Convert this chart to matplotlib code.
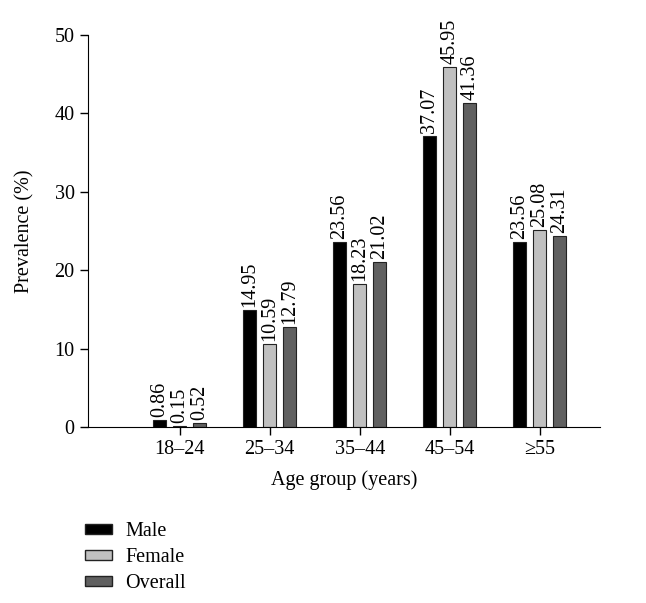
import numpy as np
import matplotlib.pyplot as plt
from matplotlib.patches import Patch

plt.rcParams['font.family'] = ['Liberation Serif', 'DejaVu Serif']

groups = ["18\u201324", "25\u201334", "35\u201344", "45\u201354", "\u226555"]
male = [0.86, 14.95, 23.56, 37.07, 23.56]
female = [0.15, 10.59, 18.23, 45.95, 25.08]
overall = [0.52, 12.79, 21.02, 41.36, 24.31]

series = [("Male", male, "#000000"),
          ("Female", female, "#c0c0c0"),
          ("Overall", overall, "#606060")]

fs = 14.5

fig = plt.figure(figsize=(6.46, 6.03), dpi=100)
ax = fig.add_axes([0.136, 0.292, 0.793, 0.650])

x = np.arange(len(groups))
w = 0.145
offsets = [-0.222, 0, 0.222]

for (name, vals, col), off in zip(series, offsets):
    bars = ax.bar(x + off, vals, w, color=col, edgecolor="#222222", linewidth=0.8)
    for b, v in zip(bars, vals):
        ax.text(b.get_x() + b.get_width() / 2, v + 0.4, f"{v:.2f}",
                rotation=90, ha="center", va="bottom", fontsize=fs)

ax.set_xlim(-1.02, 4.67)
ax.set_ylim(0, 50)
ax.set_yticks([0, 10, 20, 30, 40, 50])
ax.set_xticks(x)
ax.set_xticklabels(groups)
ax.tick_params(labelsize=fs, length=6, width=1)
ax.spines["top"].set_visible(False)
ax.spines["right"].set_visible(False)
ax.set_ylabel("Prevalence (%)", fontsize=fs)
ax.set_xlabel("Age group (years)", fontsize=fs)
ax.yaxis.set_label_coords(-0.104, 0.5)
ax.xaxis.set_label_coords(0.5, -0.11)

handles = [Patch(facecolor=c, edgecolor="#222222", label=n) for n, _, c in series]
fig.legend(handles=handles, loc="upper left", bbox_to_anchor=(0.1316, 0.134),
           frameon=False, fontsize=fs, handlelength=1.34, handleheight=0.35,
           handletextpad=0.65, labelspacing=0.35, borderpad=0, borderaxespad=0)

fig.savefig("out.png", dpi=100)
